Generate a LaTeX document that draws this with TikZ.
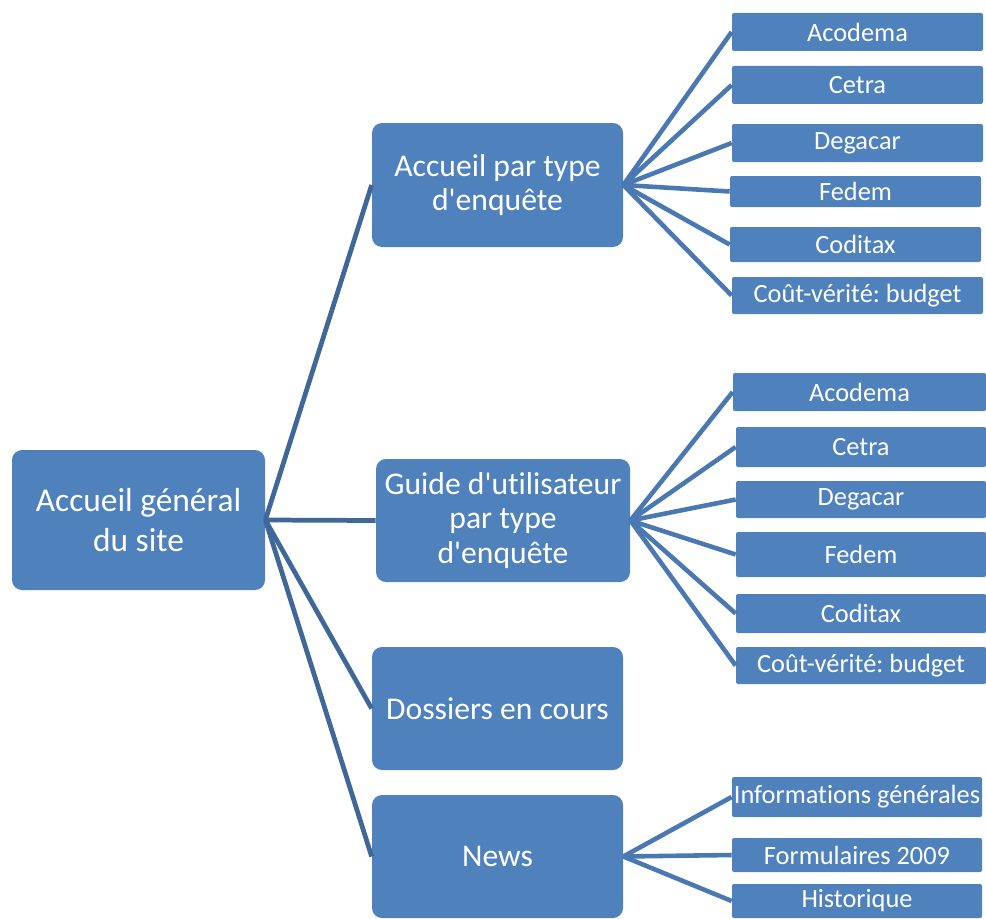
\documentclass[tikz,border=0pt]{standalone}
\usepackage{fontspec}
\setmainfont{Carlito}[Ligatures={NoCommon}]
\usetikzlibrary{calc}
\frenchspacing

\definecolor{boxblue}{HTML}{4F81BD}
\definecolor{rootline}{HTML}{3F6899}
\definecolor{leafline}{HTML}{4A78B2}

\begin{document}
\begin{tikzpicture}[
  bigbox/.style={fill=boxblue, text=white, rounded corners=0.2cm, inner sep=0pt,
    minimum width=5.02cm, minimum height=2.46cm, align=center,
    font=\fontsize{18}{19.5}\selectfont},
  leafbox/.style={fill=boxblue, text=white, rounded corners=0.04cm, inner sep=0pt,
    minimum width=5.02cm, minimum height=0.76cm,
    font=\fontsize{15}{17}\selectfont},
  trunk/.style={rootline, line width=2.7pt},
  twig/.style={leafline, line width=2.6pt}
]

% cadre : 986 x 918 px, 1 px = 0.02 cm
\useasboundingbox (0, 0) rectangle (19.72, -18.36);

% racine
\node[bigbox, minimum width=5.06cm, minimum height=2.8cm,
  font=\fontsize{19}{22.7}\selectfont] (root) at (2.77, -10.40)
  {Accueil général\\du site};

% niveau 2
\node[bigbox, minimum height=2.48cm] (enq) at (9.95, -3.70)
  {Accueil par type\\d\textquotesingle enquête};
\node[bigbox, minimum width=5.08cm] (guide) at (10.06, -10.41)
  {Guide d\textquotesingle utilisateur\\par type\\d\textquotesingle enquête};
\node[bigbox] (doss) at (9.95, -14.17) {Dossiers en cours};
\node[bigbox] (news) at (9.95, -17.13) {News};

% feuilles : accueil par type d'enquête
\node[leafbox] (enq-aco) at (17.15, -0.64) {Acodema};
\node[leafbox] (enq-cet) at (17.15, -1.70) {Cetra};
\node[leafbox] (enq-deg) at (17.15, -2.86) {Degacar};
\node[leafbox, minimum height=0.62cm] (enq-fed) at (17.11, -3.83) {Fedem};
\node[leafbox, minimum height=0.70cm] (enq-cod) at (17.11, -4.89) {Coditax};
\node[leafbox, minimum height=0.74cm] (enq-cou) at (17.15, -5.91) {Coût-vérité: budget};

% feuilles : guide d'utilisateur
\node[leafbox, minimum width=5.06cm] (gui-aco) at (17.19, -7.84) {Acodema};
\node[leafbox, minimum width=5.0cm, minimum height=0.80cm] (gui-cet) at (17.22, -8.94) {Cetra};
\node[leafbox, minimum width=5.0cm, minimum height=0.74cm] (gui-deg) at (17.22, -9.99) {Degacar};
\node[leafbox, minimum width=5.0cm, minimum height=0.90cm] (gui-fed) at (17.22, -11.09) {Fedem};
\node[leafbox, minimum width=5.0cm, minimum height=0.78cm] (gui-cod) at (17.22, -12.27) {Coditax};
\node[leafbox, minimum width=5.0cm, minimum height=0.74cm] (gui-cou) at (17.22, -13.31) {Coût-vérité: budget};

% feuilles : news
\node[leafbox, minimum width=5.0cm, minimum height=0.80cm] (new-inf) at (17.14, -15.94) {Informations générales};
\node[leafbox, minimum width=5.0cm, minimum height=0.68cm] (new-for) at (17.14, -17.10) {Formulaires 2009};
\node[leafbox, minimum width=5.0cm, minimum height=0.68cm] (new-his) at (17.14, -18.02) {Historique};

% liens racine -> niveau 2
\draw[trunk] (root.east) -- (enq.west);
\draw[trunk] (root.east) -- (guide.west);
\draw[trunk] (root.east) -- (doss.west);
\draw[trunk] (root.east) -- (news.west);

% liens niveau 2 -> feuilles
\foreach \leaf in {aco, cet, deg, fed, cod, cou}
  \draw[twig] (enq.east) -- (enq-\leaf.west);
\foreach \leaf in {aco, cet, deg, fed, cod, cou}
  \draw[twig] (guide.east) -- (gui-\leaf.west);
\foreach \leaf in {inf, for, his}
  \draw[twig] (news.east) -- (new-\leaf.west);

\end{tikzpicture}
\end{document}
